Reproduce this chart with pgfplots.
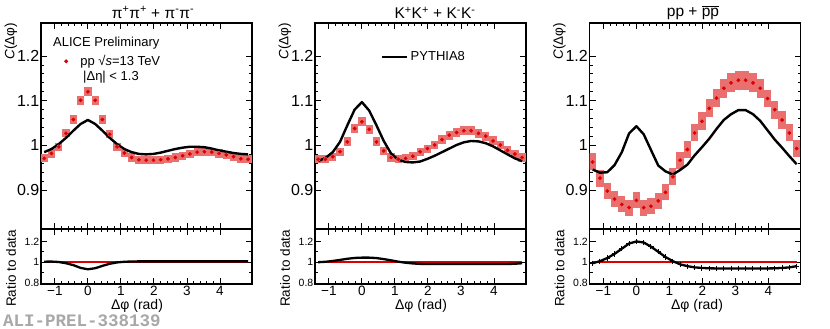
\documentclass[border=0pt]{standalone}
\usepackage{fontspec}
\setmainfont{Liberation Sans}
\setmonofont{Liberation Mono}
\usepackage{pgfplots}
\usepackage{pgfplotstable}
\pgfplotsset{compat=1.18}

\definecolor{dred}{RGB}{220,0,0}
\definecolor{boxred}{RGB}{234,112,112}
\definecolor{wmgray}{RGB}{168,168,168}

% columns: x = dphi, d = data, s = syst. box half height, m = PYTHIA8, r = ratio to data
\pgfplotstableread{
x d s m r
-1.324 0.971 0.009 0.985 1.005
-1.103 0.982 0.009 0.992 1.006
-0.882 0.997 0.009 1.003 1.002
-0.662 1.027 0.009 1.017 0.990
-0.441 1.058 0.010 1.033 0.972
-0.221 1.101 0.010 1.048 0.945
0.000 1.120 0.010 1.057 0.932
0.221 1.101 0.010 1.048 0.942
0.441 1.058 0.010 1.033 0.965
0.662 1.025 0.009 1.017 0.985
0.882 0.997 0.009 1.003 0.998
1.103 0.983 0.009 0.992 1.004
1.324 0.973 0.009 0.985 1.007
1.544 0.968 0.009 0.981 1.008
1.765 0.967 0.009 0.980 1.008
1.985 0.967 0.009 0.981 1.008
2.206 0.968 0.009 0.984 1.008
2.427 0.970 0.009 0.988 1.008
2.647 0.973 0.009 0.992 1.008
2.868 0.977 0.009 0.995 1.008
3.088 0.981 0.009 0.997 1.008
3.309 0.985 0.009 0.997 1.008
3.530 0.986 0.009 0.996 1.008
3.750 0.985 0.009 0.993 1.008
3.971 0.982 0.009 0.989 1.008
4.191 0.979 0.009 0.986 1.008
4.412 0.975 0.009 0.983 1.008
4.633 0.970 0.009 0.981 1.008
4.853 0.969 0.009 0.980 1.008
}\tabpi

\pgfplotstableread{
x d s m r
-1.324 0.969 0.009 0.965 1.000
-1.103 0.969 0.009 0.972 1.004
-0.882 0.975 0.009 0.985 1.012
-0.662 0.986 0.009 1.008 1.022
-0.441 1.008 0.010 1.045 1.033
-0.221 1.038 0.010 1.080 1.041
0.000 1.053 0.010 1.097 1.044
0.221 1.036 0.010 1.078 1.044
0.441 1.008 0.010 1.045 1.040
0.662 0.988 0.009 1.010 1.030
0.882 0.973 0.009 0.982 1.018
1.103 0.969 0.009 0.968 1.005
1.324 0.971 0.009 0.963 0.995
1.544 0.976 0.009 0.962 0.988
1.765 0.986 0.009 0.964 0.984
1.985 0.993 0.009 0.970 0.982
2.206 1.001 0.010 0.977 0.982
2.427 1.013 0.010 0.985 0.982
2.647 1.023 0.010 0.993 0.982
2.868 1.029 0.010 1.001 0.982
3.088 1.033 0.010 1.007 0.982
3.309 1.033 0.010 1.010 0.982
3.530 1.027 0.010 1.009 0.982
3.750 1.021 0.010 1.005 0.982
3.971 1.010 0.010 0.998 0.982
4.191 1.001 0.010 0.989 0.982
4.412 0.989 0.009 0.980 0.983
4.633 0.981 0.009 0.971 0.985
4.853 0.973 0.009 0.965 0.990
}\tabkk

\pgfplotstableread{
x d s m r
-1.324 0.963 0.019 0.946 0.990
-1.103 0.927 0.019 0.939 1.010
-0.882 0.898 0.018 0.940 1.040
-0.662 0.880 0.018 0.956 1.080
-0.441 0.868 0.018 0.985 1.130
-0.221 0.861 0.018 1.027 1.180
0.000 0.877 0.018 1.043 1.200
0.221 0.861 0.018 1.025 1.190
0.441 0.864 0.018 0.990 1.150
0.662 0.876 0.018 0.955 1.100
0.882 0.895 0.018 0.942 1.050
1.103 0.930 0.019 0.935 1.010
1.324 0.967 0.019 0.945 0.980
1.544 0.991 0.019 0.957 0.962
1.765 1.028 0.019 0.978 0.950
1.985 1.054 0.020 0.996 0.945
2.206 1.083 0.020 1.015 0.941
2.427 1.106 0.020 1.037 0.940
2.647 1.128 0.021 1.057 0.940
2.868 1.140 0.021 1.070 0.940
3.088 1.146 0.021 1.079 0.940
3.309 1.146 0.021 1.079 0.940
3.530 1.140 0.021 1.070 0.940
3.750 1.128 0.021 1.055 0.940
3.971 1.105 0.020 1.034 0.940
4.191 1.080 0.020 1.013 0.941
4.412 1.057 0.020 0.995 0.945
4.633 1.028 0.019 0.976 0.950
4.853 0.993 0.019 0.958 0.962
}\tabpp

\pgfplotsset{
  rootax/.style={
    scale only axis, width=211pt,
    xmin=-1.42, xmax=4.97,
    axis line style={line width=1.1pt},
    tick style={line width=0.9pt, black},
    tick align=inside,
    major tick length=6pt, minor tick length=3pt,
    xtick={-1,0,1,2,3,4}, minor x tick num=4,
  },
  mainax/.style={
    rootax, height=206pt,
    ymin=0.813, ymax=1.274,
    ytick={0.9,1,1.1,1.2}, yticklabels={0.9,1,1.1,1.2},
    minor y tick num=4,
    xticklabels={},
    yticklabel style={font=\fontsize{16}{17}\selectfont, inner xsep=1.5pt},
  },
  ratioax/.style={
    rootax, height=55pt,
    ymin=0.79, ymax=1.32,
    ytick={0.8,1,1.2}, yticklabels={0.8,1,1.2},
    minor y tick num=1,
    xticklabels={−1,0,1,2,3,4},
    yticklabel style={font=\fontsize{10.5}{11}\selectfont, inner xsep=1.5pt},
    xticklabel style={font=\fontsize{13.5}{14}\selectfont, inner ysep=2pt},
  },
  boxes/.style={boxred, only marks, mark=none, forget plot,
    error bars/.cd, y dir=both, y explicit,
    error bar style={line width=7.3pt, boxred}, error mark=none},
  pts/.style={dred, only marks, mark=*, mark size=1.7pt, forget plot},
  mc/.style={black, line width=2.4pt, line join=round, forget plot},
  one/.style={dred, line width=2.4pt, forget plot},
  rat/.style={black, line width=2.3pt, line join=round, forget plot},
}

\begin{document}
\begin{tikzpicture}[x=1pt,y=1pt]
\useasboundingbox (0,0) rectangle (830,329);

% ---------- panel 1 : pions ----------
\begin{axis}[mainax, at={(41pt,100pt)}, anchor=south west,
  legend style={at={(0.108,0.814)}, anchor=west, draw=none, fill=none,
    inner sep=0pt, font=\fontsize{13}{14}\selectfont},
  legend cell align=left,
  legend image code/.code={\path (0pt,0pt) (14pt,0pt); \draw[#1] plot coordinates {(2pt,0pt)};}]
\addplot[boxes] table[x=x, y=d, y error=s] {\tabpi};
\addplot[pts] table[x=x, y=d] {\tabpi};
\addplot[mc] table[x=x, y=m] {\tabpi};
\addlegendimage{only marks, mark=*, mark size=1.8pt, dred}
\addlegendentry{pp √\textit{s}=13 TeV}
\end{axis}
\begin{axis}[ratioax, at={(41pt,45pt)}, anchor=south west]
\addplot[one] coordinates {(-1.33,1) (4.86,1)};
\addplot[rat] table[x=x, y=r] {\tabpi};
\end{axis}

% ---------- panel 2 : kaons ----------
\begin{axis}[mainax, at={(315pt,100pt)}, anchor=south west,
  legend style={at={(0.313,0.835)}, anchor=west, draw=none, fill=none,
    inner sep=0pt, font=\fontsize{13}{14}\selectfont},
  legend image code/.code={\draw[#1] (0pt,0pt) -- (25pt,0pt);}]
\addplot[boxes] table[x=x, y=d, y error=s] {\tabkk};
\addplot[pts] table[x=x, y=d] {\tabkk};
\addplot[mc] table[x=x, y=m] {\tabkk};
\addlegendimage{black, line width=2.5pt}
\addlegendentry{PYTHIA8}
\end{axis}
\begin{axis}[ratioax, at={(315pt,45pt)}, anchor=south west]
\addplot[one] coordinates {(-1.33,1) (4.86,1)};
\addplot[rat] table[x=x, y=r] {\tabkk};
\end{axis}

% ---------- panel 3 : protons ----------
\begin{axis}[mainax, at={(589.5pt,100pt)}, anchor=south west]
\addplot[boxes] table[x=x, y=d, y error=s] {\tabpp};
\addplot[pts] table[x=x, y=d] {\tabpp};
\addplot[mc] table[x=x, y=m] {\tabpp};
\end{axis}
\begin{axis}[ratioax, at={(589.5pt,45pt)}, anchor=south west]
\addplot[one] coordinates {(-1.33,1) (4.86,1)};
\addplot[rat, mark=+, mark size=2.6pt, mark options={line width=1pt}] table[x=x, y=r] {\tabpp};
\end{axis}

% ---------- titles and labels ----------
\begin{scope}[every node/.style={inner sep=0pt}]
\node[font=\fontsize{15.5}{16}\selectfont] at (153,316.5)
  {π\textsuperscript{+}π\textsuperscript{+} + π\textsuperscript{-}π\textsuperscript{-}};
\node[font=\fontsize{15.5}{16}\selectfont] at (435,316.5)
  {K\textsuperscript{+}K\textsuperscript{+} + K\textsuperscript{-}K\textsuperscript{-}};
\node[font=\fontsize{15.5}{16}\selectfont] at (693,316.5)
  {pp + $\overline{\mbox{pp}}$};

\foreach \xl in {11,285,559.5} {
  \node[rotate=90, anchor=east, font=\fontsize{13.5}{14}\selectfont] at (\xl,306) {\textit{C}(Δφ)};
  \node[rotate=90, anchor=east, font=\fontsize{13.5}{14}\selectfont] at (\xl,99) {Ratio to data};
}
\foreach \xc in {137,421,697}
  \node[font=\fontsize{14}{15}\selectfont] at (\xc,23) {Δφ (rad)};

\node[anchor=west, font=\fontsize{13}{14}\selectfont] at (53,285.5) {ALICE Preliminary};
\node[anchor=west, font=\fontsize{13}{14}\selectfont] at (83,252) {|Δη| < 1.3};

\node[anchor=west, text=wmgray, font=\fontsize{17.5}{18}\selectfont\ttfamily\bfseries] at (3,8) {ALI-PREL-338139};
\end{scope}
\end{tikzpicture}
\end{document}
